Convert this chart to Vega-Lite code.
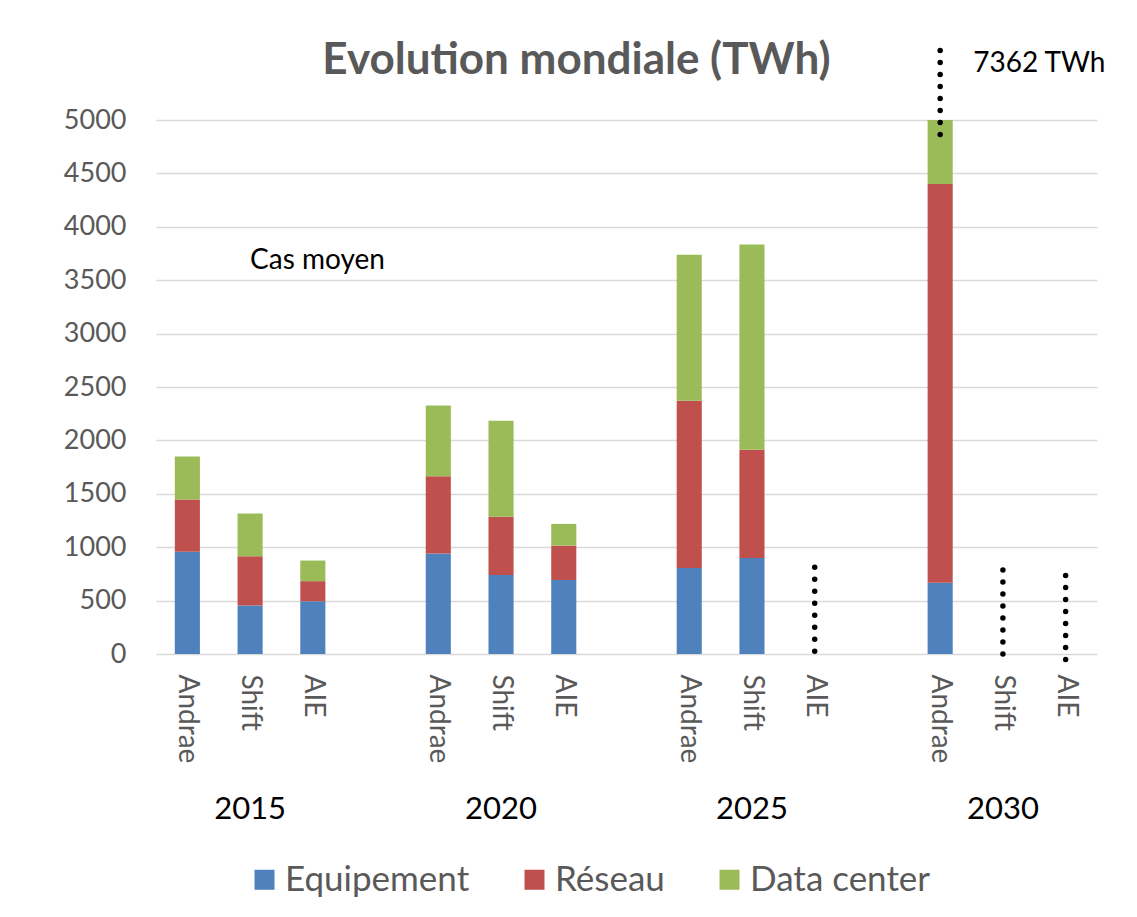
{
  "$schema": "https://vega.github.io/schema/vega-lite/v6.json",
  "width": 941,
  "height": 534,
  "autosize": {"type": "none"},
  "padding": {"left": 156, "top": 120, "right": 40, "bottom": 263},
  "background": "white",
  "title": {"text": "Evolution mondiale (TWh)", "font": "Lato", "fontSize": 44, "fontWeight": "bold", "color": "#595959", "anchor": "middle", "dx": -50, "offset": -37},
  "datasets": {
    "bars": [
      {"slot": "2015|Andrae", "cat": "Equipement", "v": 957},
      {"slot": "2015|Andrae", "cat": "Réseau", "v": 490},
      {"slot": "2015|Andrae", "cat": "Data center", "v": 402},
      {"slot": "2015|Shift", "cat": "Equipement", "v": 454},
      {"slot": "2015|Shift", "cat": "Réseau", "v": 462},
      {"slot": "2015|Shift", "cat": "Data center", "v": 400},
      {"slot": "2015|AIE", "cat": "Equipement", "v": 494},
      {"slot": "2015|AIE", "cat": "Réseau", "v": 188},
      {"slot": "2015|AIE", "cat": "Data center", "v": 193},
      {"slot": "2020|Andrae", "cat": "Equipement", "v": 940},
      {"slot": "2020|Andrae", "cat": "Réseau", "v": 725},
      {"slot": "2020|Andrae", "cat": "Data center", "v": 662},
      {"slot": "2020|Shift", "cat": "Equipement", "v": 740},
      {"slot": "2020|Shift", "cat": "Réseau", "v": 544},
      {"slot": "2020|Shift", "cat": "Data center", "v": 900},
      {"slot": "2020|AIE", "cat": "Equipement", "v": 693},
      {"slot": "2020|AIE", "cat": "Réseau", "v": 322},
      {"slot": "2020|AIE", "cat": "Data center", "v": 203},
      {"slot": "2025|Andrae", "cat": "Equipement", "v": 806},
      {"slot": "2025|Andrae", "cat": "Réseau", "v": 1565},
      {"slot": "2025|Andrae", "cat": "Data center", "v": 1367},
      {"slot": "2025|Shift", "cat": "Equipement", "v": 900},
      {"slot": "2025|Shift", "cat": "Réseau", "v": 1012},
      {"slot": "2025|Shift", "cat": "Data center", "v": 1922},
      {"slot": "2030|Andrae", "cat": "Equipement", "v": 667},
      {"slot": "2030|Andrae", "cat": "Réseau", "v": 3733},
      {"slot": "2030|Andrae", "cat": "Data center", "v": 2962}
    ],
    "dots": [
      {"slot": "2025|AIE", "lo": 26, "hi": 822},
      {"slot": "2030|Shift", "lo": 0, "hi": 791},
      {"slot": "2030|AIE", "lo": -51, "hi": 747},
      {"slot": "2030|Andrae", "lo": 4864, "hi": 5667}
    ],
    "note1": [{"slot": "2015|Shift", "v": 3684, "label": "Cas moyen"}],
    "note2": [{"slot": "2030|Andrae", "v": 5529, "label": "7362 TWh"}]
  },
  "layer": [
    {
      "data": {"name": "bars"},
      "transform": [{"calculate": "indexof(['Equipement', 'Réseau', 'Data center'], datum.cat)", "as": "stackOrder"}],
      "mark": {"type": "bar", "clip": true},
      "encoding": {
        "x": {
          "field": "slot", "type": "nominal",
          "scale": {
            "domain": ["2015|Andrae", "2015|Shift", "2015|AIE", "2015|", "2020|Andrae", "2020|Shift", "2020|AIE", "2020|", "2025|Andrae", "2025|Shift", "2025|AIE", "2025|", "2030|Andrae", "2030|Shift", "2030|AIE"],
            "paddingInner": 0.6, "paddingOuter": 0.3
          },
          "axis": {
            "title": null, "labelExpr": "split(datum.value, '|')[1]",
            "labelAngle": 90, "labelAlign": "left", "labelBaseline": "middle",
            "labelPadding": 20, "labelFontSize": 28, "labelColor": "#595959", "labelFont": "Lato",
            "ticks": false, "tickSize": 0, "domain": false, "grid": false, "labelOverlap": false, "labelBound": false
          }
        },
        "y": {
          "field": "v", "type": "quantitative", "stack": "zero",
          "scale": {"domain": [0, 5000], "nice": false},
          "axis": {
            "title": null, "values": [0, 500, 1000, 1500, 2000, 2500, 3000, 3500, 4000, 4500, 5000], "format": "d",
            "grid": true, "gridColor": "#d9d9d9", "gridWidth": 1.5, "domain": false, "ticks": false, "tickSize": 0,
            "labelPadding": 30, "labelFontSize": 27, "labelColor": "#595959", "labelFont": "Lato"
          }
        },
        "order": {"field": "stackOrder", "type": "quantitative", "sort": "ascending"},
        "color": {
          "field": "cat", "type": "nominal",
          "sort": ["Equipement", "Réseau", "Data center"],
          "scale": {"domain": ["Equipement", "Réseau", "Data center"], "range": ["#4F81BD", "#C0504D", "#9BBB59"]},
          "legend": {
            "orient": "none", "legendX": 91, "legendY": 742, "direction": "horizontal", "columns": 3,
            "title": null, "symbolType": "square", "symbolSize": 400, "symbolStrokeWidth": 0, "symbolOpacity": 1,
            "labelFontSize": 35, "labelColor": "#595959", "labelFont": "Lato", "labelOffset": 3, "columnPadding": 47, "labelLimit": 500
          }
        }
      }
    },
    {
      "data": {"name": "dots"},
      "mark": {"type": "rule", "strokeDash": [0, 12], "strokeCap": "round", "strokeWidth": 5.5, "color": "black"},
      "encoding": {
        "x": {
          "field": "slot", "type": "nominal",
          "axis": {
            "title": null, "orient": "bottom",
            "labelExpr": "indexof(datum.value, '|Shift') >= 0 ? split(datum.value, '|')[0] : ''",
            "labelAngle": 0, "labelPadding": 155, "labelBaseline": "middle", "labelAlign": "center",
            "labelFontSize": 31, "labelFontWeight": "normal", "labelColor": "black", "labelFont": "Lato",
            "ticks": false, "tickSize": 0, "domain": false, "grid": false, "labelOverlap": false, "labelBound": false
          }
        },
        "y": {"field": "lo", "type": "quantitative"},
        "y2": {"field": "hi"}
      }
    },
    {
      "data": {"name": "note1"},
      "mark": {"type": "text", "align": "left", "baseline": "middle", "font": "Lato", "fontSize": 28, "color": "black"},
      "encoding": {
        "x": {"field": "slot", "type": "nominal", "axis": null},
        "y": {"field": "v", "type": "quantitative"},
        "text": {"field": "label"}
      }
    },
    {
      "data": {"name": "note2"},
      "mark": {"type": "text", "align": "left", "baseline": "middle", "font": "Lato", "fontSize": 28, "color": "black", "dx": 33},
      "encoding": {
        "x": {"field": "slot", "type": "nominal", "axis": null},
        "y": {"field": "v", "type": "quantitative"},
        "text": {"field": "label"}
      }
    }
  ],
  "resolve": {"axis": {"x": "independent"}},
  "config": {"view": {"stroke": null}}
}
